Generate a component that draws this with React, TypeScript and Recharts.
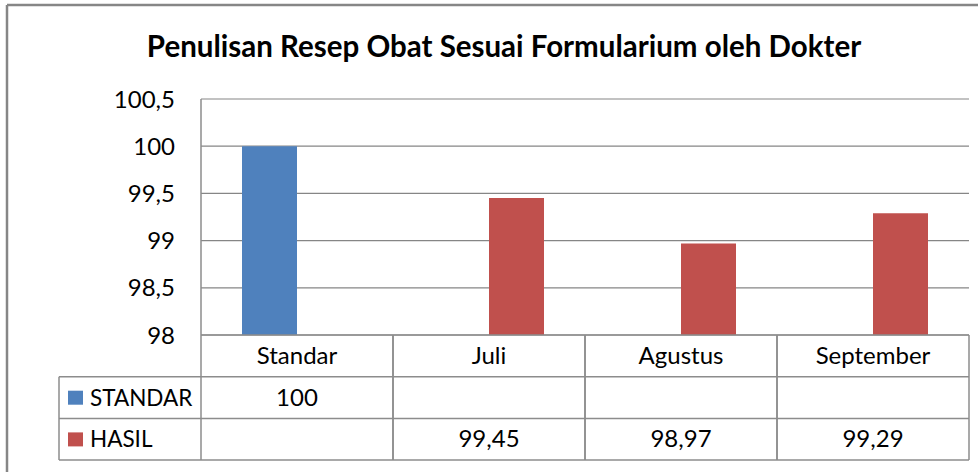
import { Bar, BarChart, CartesianGrid, XAxis, YAxis } from "recharts";

const categories = ["Standar", "Juli", "Agustus", "September"];
const standarValues = [100, null, null, null];
const hasilValues = [null, 99.45, 98.97, 99.29];
const yTicks = [98, 98.5, 99, 99.5, 100, 100.5];
const seriesNames = ["STANDAR", "HASIL"];
const seriesColors = ["#4F81BD", "#C0504D"];

const data = categories.map((name, i) => ({
  name,
  standar: standarValues[i],
  hasil: hasilValues[i],
}));

const W = 978;
const H = 472;
const PLOT_LEFT = 201;
const PLOT_RIGHT = 969;
const PLOT_TOP = 99;
const PLOT_BOTTOM = 335;
const CELL_W = (PLOT_RIGHT - PLOT_LEFT) / categories.length;
const ROW_H = 41.7;
const LINE = "#8c8c8c";
const FONT = "Lato, 'Open Sans', sans-serif";

const fmt = (v: number | null) => (v == null ? "" : String(v).replace(".", ","));

// one table column per category, drawn where the x axis puts the tick
function TableTick({ x, y, payload, index }: any) {
  const i = payload?.index ?? index;
  const half = CELL_W / 2;
  const rows = [categories[i], fmt(standarValues[i]), fmt(hasilValues[i])];
  return (
    <g>
      <line x1={x - half} x2={x - half} y1={y} y2={y + ROW_H * 3} stroke={LINE} strokeWidth={1.5} />
      <line x1={x + half} x2={x + half} y1={y} y2={y + ROW_H * 3} stroke={LINE} strokeWidth={1.5} />
      {[1, 2, 3].map((r) => (
        <line key={r} x1={x - half} x2={x + half} y1={y + ROW_H * r} y2={y + ROW_H * r} stroke={LINE} strokeWidth={1.5} />
      ))}
      {rows.map((t, r) => (
        <text
          key={r}
          x={x}
          y={y + ROW_H * r + ROW_H / 2 + 8}
          textAnchor="middle"
          fontSize={24}
          fontFamily={FONT}
          fill="#000"
        >
          {t}
        </text>
      ))}
    </g>
  );
}

export default function App() {
  return (
    <div style={{ position: "absolute", left: 0, top: 0, width: W, height: H, overflow: "hidden", background: "#fff", fontFamily: FONT }}>
      <BarChart
        width={W}
        height={H}
        data={data}
        margin={{ top: PLOT_TOP, right: W - PLOT_RIGHT, left: 0, bottom: 0 }}
        barGap={0}
        barSize={55}
        style={{ position: "absolute", left: 0, top: 0 }}
      >
        <CartesianGrid horizontal vertical={false} stroke="#868686" strokeWidth={1.2} />
        <XAxis
          dataKey="name"
          height={H - PLOT_BOTTOM}
          axisLine={{ stroke: LINE, strokeWidth: 1.5 }}
          tickLine={false}
          tickSize={0}
          tickMargin={0}
          interval={0}
          tick={<TableTick />}
        />
        <YAxis
          width={PLOT_LEFT}
          domain={[98, 100.5]}
          ticks={yTicks}
          allowDataOverflow
          axisLine={{ stroke: LINE, strokeWidth: 1.5 }}
          tickLine={false}
          tickSize={6}
          tickMargin={20}
          tickFormatter={(v: number) => fmt(v)}
          tick={{ fill: "#000", fontSize: 24, fontFamily: FONT }}
        />
        <Bar dataKey="standar" name={seriesNames[0]} fill={seriesColors[0]} isAnimationActive={false} />
        <Bar dataKey="hasil" name={seriesNames[1]} fill={seriesColors[1]} isAnimationActive={false} />
      </BarChart>
      <svg width={W} height={H} style={{ position: "absolute", left: 0, top: 0, pointerEvents: "none" }}>
        {/* chart frame, runs off the right and bottom edges */}
        <line x1={7} x2={W} y1={5} y2={5} stroke="#868686" strokeWidth={2.5} />
        <line x1={7} x2={7} y1={5} y2={H} stroke="#868686" strokeWidth={2.5} />
        <text x={504} y={57} textAnchor="middle" fontSize={29.5} fontWeight="bold" fontFamily={FONT} fill="#000">
          Penulisan Resep Obat Sesuai Formularium oleh Dokter
        </text>
        {/* legend keys column of the data table */}
        <line x1={59} x2={PLOT_LEFT} y1={PLOT_BOTTOM + ROW_H * 3} y2={PLOT_BOTTOM + ROW_H * 3} stroke={LINE} strokeWidth={1.5} />
        <line x1={59} x2={59} y1={PLOT_BOTTOM + ROW_H} y2={PLOT_BOTTOM + ROW_H * 3} stroke={LINE} strokeWidth={1.5} />
        {seriesNames.map((s, r) => {
          const top = PLOT_BOTTOM + ROW_H * (r + 1);
          return (
            <g key={s}>
              <line x1={59} x2={PLOT_LEFT} y1={top} y2={top} stroke={LINE} strokeWidth={1.5} />
              <rect x={68} y={top + 14} width={15} height={14} fill={seriesColors[r]} />
              <text x={90} y={top + ROW_H / 2 + 8} fontSize={22.5} fontFamily={FONT} fill="#000">
                {s}
              </text>
            </g>
          );
        })}
      </svg>
    </div>
  );
}
